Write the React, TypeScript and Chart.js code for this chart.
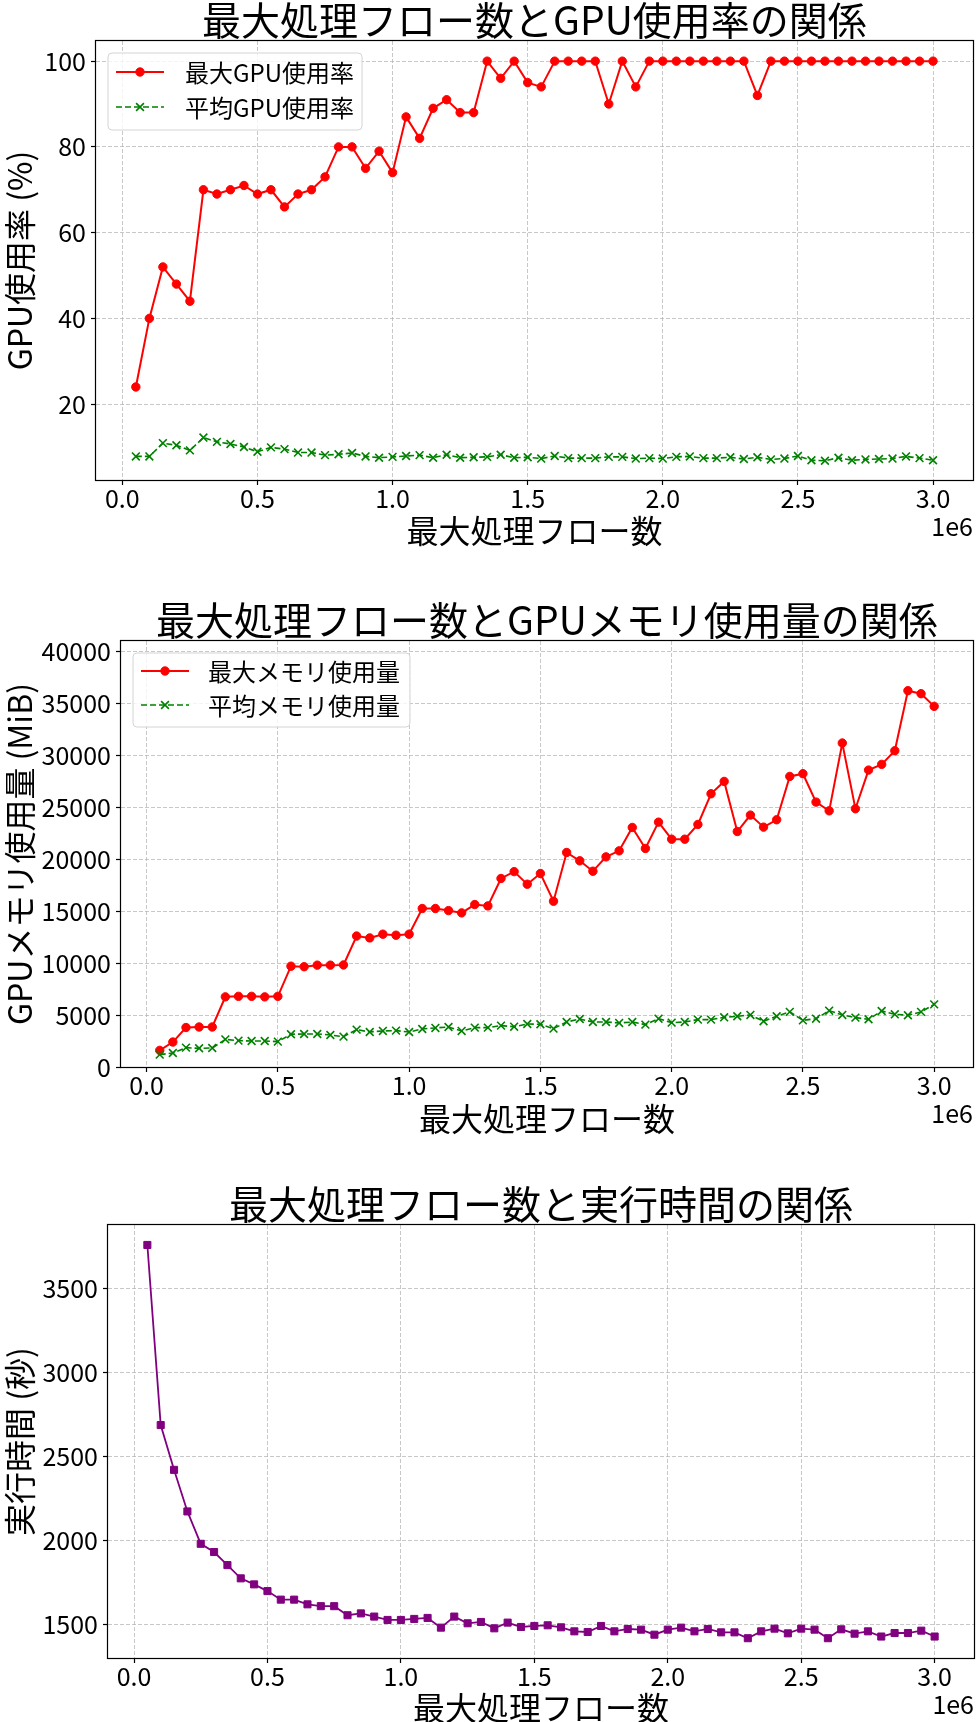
import React, { useEffect, useRef } from 'react';
import { Chart, registerables } from 'chart.js';

Chart.register(...registerables);

// ---------- data ----------
const FLOWS = [
  50000, 100000, 150000, 200000, 250000, 300000, 350000, 400000, 450000, 500000,
  550000, 600000, 650000, 700000, 750000, 800000, 850000, 900000, 950000, 1000000,
  1050000, 1100000, 1150000, 1200000, 1250000, 1300000, 1350000, 1400000, 1450000, 1500000,
  1550000, 1600000, 1650000, 1700000, 1750000, 1800000, 1850000, 1900000, 1950000, 2000000,
  2050000, 2100000, 2150000, 2200000, 2250000, 2300000, 2350000, 2400000, 2450000, 2500000,
  2550000, 2600000, 2650000, 2700000, 2750000, 2800000, 2850000, 2900000, 2950000, 3000000,
];

const GPU_MAX = [
  24, 40, 52, 48, 44, 70, 69, 70, 71, 69,
  70, 66, 69, 70, 73, 80, 80, 75, 79, 74,
  87, 82, 89, 91, 88, 88, 100, 96, 100, 95,
  94, 100, 100, 100, 100, 90, 100, 94, 100, 100,
  100, 100, 100, 100, 100, 100, 92, 100, 100, 100,
  100, 100, 100, 100, 100, 100, 100, 100, 100, 100,
];

const GPU_AVG = [
  7.8, 7.8, 10.9, 10.4, 9.2, 12.2, 11.2, 10.7, 10.0, 8.9,
  9.9, 9.5, 8.7, 8.7, 8.1, 8.3, 8.6, 7.8, 7.5, 7.7,
  7.9, 8.1, 7.5, 8.2, 7.5, 7.6, 7.7, 8.2, 7.5, 7.6,
  7.3, 7.9, 7.4, 7.4, 7.4, 7.7, 7.7, 7.3, 7.4, 7.3,
  7.7, 7.8, 7.4, 7.4, 7.6, 7.2, 7.6, 7.1, 7.3, 7.9,
  6.9, 6.8, 7.5, 6.9, 7.1, 7.2, 7.3, 7.8, 7.4, 6.9,
];

const MEM_MAX = [
  1600, 2400, 3800, 3850, 3850, 6750, 6800, 6800, 6750, 6800,
  9700, 9650, 9800, 9800, 9820, 12600, 12420, 12780, 12680, 12780,
  15250, 15250, 15050, 14830, 15630, 15500, 18140, 18800, 17590, 18620,
  15950, 20640, 19840, 18840, 20220, 20800, 23050, 21030, 23560, 21920,
  21920, 23340, 26290, 27480, 22660, 24240, 23080, 23790, 27960, 28220,
  25490, 24650, 31170, 24850, 28570, 29120, 30430, 36210, 35920, 34700,
];

const MEM_AVG = [
  1190, 1350, 1860, 1800, 1830, 2660, 2540, 2500, 2500, 2440,
  3150, 3180, 3180, 3080, 2920, 3600, 3370, 3470, 3500, 3370,
  3660, 3760, 3850, 3470, 3790, 3790, 3980, 3880, 4140, 4110,
  3690, 4330, 4620, 4330, 4330, 4240, 4330, 4080, 4650, 4270,
  4330, 4560, 4560, 4780, 4880, 5010, 4400, 4880, 5300, 4490,
  4650, 5420, 5010, 4750, 4590, 5390, 5070, 4980, 5300, 6030,
];

const EXEC_TIME = [
  3762, 2688, 2421, 2173, 1980, 1931, 1853, 1774, 1738, 1698,
  1647, 1647, 1619, 1608, 1608, 1554, 1565, 1546, 1526, 1526,
  1532, 1538, 1480, 1546, 1506, 1514, 1476, 1510, 1484, 1490,
  1494, 1482, 1458, 1454, 1490, 1458, 1472, 1468, 1438, 1468,
  1480, 1458, 1472, 1452, 1452, 1417, 1458, 1474, 1446, 1474,
  1468, 1417, 1470, 1444, 1458, 1427, 1448, 1448, 1462, 1427,
];

const X_TICKS = [0, 500000, 1000000, 1500000, 2000000, 2500000, 3000000];
const Y_TICKS_GPU = [20, 40, 60, 80, 100];
const Y_TICKS_MEM = [0, 5000, 10000, 15000, 20000, 25000, 30000, 35000, 40000];
const Y_TICKS_TIME = [1500, 2000, 2500, 3000, 3500];

const TITLES = [
  '最大処理フロー数とGPU使用率の関係',
  '最大処理フロー数とGPUメモリ使用量の関係',
  '最大処理フロー数と実行時間の関係',
];
const X_LABEL = '最大処理フロー数';
const Y_LABELS = ['GPU使用率 (%)', 'GPUメモリ使用量 (MiB)', '実行時間 (秒)'];
const SERIES_LABELS = ['最大GPU使用率', '平均GPU使用率', '最大メモリ使用量', '平均メモリ使用量', '実行時間'];
const X_RANGE = [-97500, 3147500];
const OFFSET_TEXT = '1e6';

// ---------- styling ----------
const FONT = "'Noto Sans CJK JP', 'Noto Sans', sans-serif";
const GRID_COLOR = 'rgba(176,176,176,0.7)';
const TICK_FONT = 25;
const LEGEND_FONT = 24;
const LABEL_FONT = 32;
const TITLE_FONT = 39;

function pts(ys: number[]) {
  return FLOWS.map((x, i) => ({ x, y: ys[i] }));
}

function drawMarker(ctx: CanvasRenderingContext2D, style: string, x: number, y: number, r: number, color: string, bw: number) {
  ctx.save();
  ctx.fillStyle = color;
  ctx.strokeStyle = color;
  ctx.lineWidth = bw;
  ctx.setLineDash([]);
  ctx.beginPath();
  if (style === 'circle') {
    ctx.arc(x, y, r, 0, Math.PI * 2);
    ctx.fill();
    ctx.stroke();
  } else if (style === 'crossRot') {
    const d = r * Math.SQRT1_2;
    ctx.moveTo(x - d, y - d);
    ctx.lineTo(x + d, y + d);
    ctx.moveTo(x - d, y + d);
    ctx.lineTo(x + d, y - d);
    ctx.stroke();
  } else {
    const s = r * Math.SQRT1_2;
    ctx.rect(x - s, y - s, 2 * s, 2 * s);
    ctx.fill();
    ctx.stroke();
  }
  ctx.restore();
}

const framePlugin = {
  id: 'frameBox',
  afterDraw(chart: any) {
    const { left, top, right, bottom } = chart.chartArea;
    const ctx = chart.ctx;
    ctx.save();
    ctx.strokeStyle = '#000';
    ctx.lineWidth = 1.2;
    ctx.setLineDash([]);
    ctx.strokeRect(Math.round(left) - 0.5, Math.round(top) - 0.5, Math.round(right) - Math.round(left) + 1, Math.round(bottom) - Math.round(top) + 1);
    ctx.restore();
  },
};

const offsetTextPlugin = {
  id: 'offsetText',
  afterDraw(chart: any, _args: any, opts: any) {
    if (!opts || !opts.text) return;
    const ctx = chart.ctx;
    const { right, bottom } = chart.chartArea;
    ctx.save();
    ctx.font = `${TICK_FONT}px ${FONT}`;
    ctx.fillStyle = '#000';
    ctx.textAlign = 'right';
    ctx.textBaseline = 'middle';
    ctx.fillText(opts.text, right, bottom + opts.dy);
    ctx.restore();
  },
};

const boxLegendPlugin = {
  id: 'boxLegend',
  afterDatasetsDraw(chart: any, _args: any, opts: any) {
    if (!opts || !opts.show) return;
    const ctx = chart.ctx as CanvasRenderingContext2D;
    const { left, top } = chart.chartArea;
    const x0 = left + opts.dx;
    const y0 = top + opts.dy;
    const ds = chart.data.datasets;
    ctx.save();
    ctx.font = `${LEGEND_FONT}px ${FONT}`;
    const tw = Math.max(...ds.map((d: any) => ctx.measureText(d.label).width));
    const w = opts.textX + tw + opts.padR;
    const h = opts.h;
    const r = 4;
    ctx.beginPath();
    ctx.moveTo(x0 + r, y0);
    ctx.lineTo(x0 + w - r, y0);
    ctx.arcTo(x0 + w, y0, x0 + w, y0 + r, r);
    ctx.lineTo(x0 + w, y0 + h - r);
    ctx.arcTo(x0 + w, y0 + h, x0 + w - r, y0 + h, r);
    ctx.lineTo(x0 + r, y0 + h);
    ctx.arcTo(x0, y0 + h, x0, y0 + h - r, r);
    ctx.lineTo(x0, y0 + r);
    ctx.arcTo(x0, y0, x0 + r, y0, r);
    ctx.closePath();
    ctx.fillStyle = 'rgba(255,255,255,0.8)';
    ctx.fill();
    ctx.strokeStyle = '#d4d4d4';
    ctx.lineWidth = 1;
    ctx.stroke();
    ds.forEach((d: any, i: number) => {
      const cy = y0 + opts.rows[i];
      ctx.save();
      ctx.strokeStyle = d.borderColor;
      ctx.lineWidth = d.borderWidth;
      ctx.setLineDash(d.borderDash || []);
      ctx.beginPath();
      ctx.moveTo(x0 + 8, cy);
      ctx.lineTo(x0 + 56, cy);
      ctx.stroke();
      ctx.restore();
      drawMarker(ctx, d.pointStyle, x0 + 32, cy, d.pointRadius, d.borderColor, d.pointBorderWidth);
      ctx.fillStyle = '#000';
      ctx.textAlign = 'left';
      ctx.textBaseline = 'middle';
      ctx.fillText(d.label, x0 + opts.textX, cy + 1);
    });
    ctx.restore();
  },
};

interface Layout {
  height: number;
  plotTop: number;
  plotBottom: number;
  plotLeft: number;
  right: number;
  xlabelPad: number;
}

function makeConfig(
  datasets: any[],
  title: string,
  yLabel: string,
  y: { min: number; max: number; ticks: number[] },
  lay: Layout,
  legend: any,
) {
  return {
    type: 'line',
    data: { datasets },
    plugins: [framePlugin, offsetTextPlugin, boxLegendPlugin],
    options: {
      responsive: false,
      animation: false,
      devicePixelRatio: 1,
      layout: { padding: { top: 0, left: 0, right: lay.right, bottom: 0 } },
      elements: { line: { tension: 0 } },
      plugins: {
        legend: { display: false },
        tooltip: { enabled: false },
        title: {
          display: true,
          fullSize: false,
          text: title,
          color: '#000',
          font: { family: FONT, size: TITLE_FONT, weight: 'normal', lineHeight: 1 },
          padding: { top: lay.plotTop - TITLE_FONT - 1, bottom: 1 },
        },
        offsetText: { text: OFFSET_TEXT, dy: 46 },
        boxLegend: legend,
      },
      scales: {
        x: {
          type: 'linear',
          min: X_RANGE[0],
          max: X_RANGE[1],
          afterFit: (s: any) => {
            s.height = lay.height - lay.plotBottom;
          },
          afterBuildTicks: (s: any) => {
            s.ticks = X_TICKS.map((v) => ({ value: v }));
          },
          ticks: {
            autoSkip: false,
            maxRotation: 0,
            color: '#000',
            padding: 1,
            font: { family: FONT, size: TICK_FONT, lineHeight: 1 },
            callback: (v: number) => (v / 1e6).toFixed(1),
          },
          grid: { color: GRID_COLOR, lineWidth: 1, tickColor: '#000', tickLength: 5, tickWidth: 1.2, tickBorderDash: [] },
          border: { display: false, dash: [4, 2] },
          title: {
            display: true,
            text: X_LABEL,
            color: '#000',
            font: { family: FONT, size: LABEL_FONT, lineHeight: 1 },
            padding: { top: 0, bottom: lay.xlabelPad },
          },
        },
        y: {
          type: 'linear',
          min: y.min,
          max: y.max,
          afterFit: (s: any) => {
            s.width = lay.plotLeft;
          },
          afterBuildTicks: (s: any) => {
            s.ticks = y.ticks.map((v) => ({ value: v }));
          },
          ticks: {
            autoSkip: false,
            color: '#000',
            padding: 5,
            font: { family: FONT, size: TICK_FONT, lineHeight: 1 },
            callback: (v: number) => String(v),
          },
          grid: { color: GRID_COLOR, lineWidth: 1, tickColor: '#000', tickLength: 5, tickWidth: 1.2, tickBorderDash: [] },
          border: { display: false, dash: [4, 2] },
          title: {
            display: true,
            text: yLabel,
            color: '#000',
            font: { family: FONT, size: LABEL_FONT, lineHeight: 1 },
            padding: { top: 4, bottom: 0 },
          },
        },
      },
    },
  };
}

const redSeries = (label: string, data: number[]) => ({
  label,
  data: pts(data),
  borderColor: '#ff0000',
  backgroundColor: '#ff0000',
  borderWidth: 2,
  pointStyle: 'circle',
  pointRadius: 4.2,
  pointBorderWidth: 1,
  order: 2,
});

const greenSeries = (label: string, data: number[]) => ({
  label,
  data: pts(data),
  borderColor: '#008000',
  backgroundColor: '#008000',
  borderWidth: 1.6,
  borderDash: [6, 3],
  pointStyle: 'crossRot',
  pointRadius: 5.5,
  pointBorderWidth: 1.6,
  order: 1,
});

const CONFIGS = [
  {
    top: 0,
    height: 551,
    config: () =>
      makeConfig(
        [redSeries(SERIES_LABELS[0], GPU_MAX), greenSeries(SERIES_LABELS[1], GPU_AVG)],
        TITLES[0],
        Y_LABELS[0],
        { min: 2.3, max: 104.7, ticks: Y_TICKS_GPU },
        { height: 551, plotTop: 41, plotBottom: 480, plotLeft: 96, right: 2, xlabelPad: 4 },
        { show: true, dx: 12, dy: 12, h: 77, rows: [19, 54], textX: 77, padR: 8 },
      ),
  },
  {
    top: 560,
    height: 579,
    config: () =>
      makeConfig(
        [redSeries(SERIES_LABELS[2], MEM_MAX), greenSeries(SERIES_LABELS[3], MEM_AVG)],
        TITLES[1],
        Y_LABELS[1],
        { min: 0, max: 40990, ticks: Y_TICKS_MEM },
        { height: 579, plotTop: 81, plotBottom: 507, plotLeft: 121, right: 2, xlabelPad: 4 },
        { show: true, dx: 12, dy: 12, h: 74, rows: [18, 52], textX: 75, padR: 10 },
      ),
  },
  {
    top: 1140,
    height: 586,
    config: () =>
      makeConfig(
        [
          {
            label: SERIES_LABELS[4],
            data: pts(EXEC_TIME),
            borderColor: '#800080',
            backgroundColor: '#800080',
            borderWidth: 1.8,
            pointStyle: 'rect',
            pointRadius: 5,
            pointBorderWidth: 1,
          },
        ],
        TITLES[2],
        Y_LABELS[2],
        { min: 1299, max: 3881, ticks: Y_TICKS_TIME },
        { height: 586, plotTop: 85, plotBottom: 518, plotLeft: 108, right: 3, xlabelPad: 2 },
        { show: false },
      ),
  },
];

function ChartCanvas({ top, height, build }: { top: number; height: number; build: () => any }) {
  const ref = useRef<HTMLCanvasElement>(null);
  useEffect(() => {
    if (!ref.current) return;
    const chart = new Chart(ref.current, build());
    return () => chart.destroy();
  }, []);
  return (
    <canvas
      ref={ref}
      width={980}
      height={height}
      style={{ position: 'absolute', left: 0, top, width: 980, height, display: 'block' }}
    />
  );
}

export default function App() {
  return (
    <div
      style={{
        position: 'absolute',
        left: 0,
        top: 0,
        width: 980,
        height: 1722,
        overflow: 'hidden',
        background: '#fff',
      }}
    >
      {CONFIGS.map((c, i) => (
        <ChartCanvas key={i} top={c.top} height={c.height} build={c.config} />
      ))}
    </div>
  );
}
